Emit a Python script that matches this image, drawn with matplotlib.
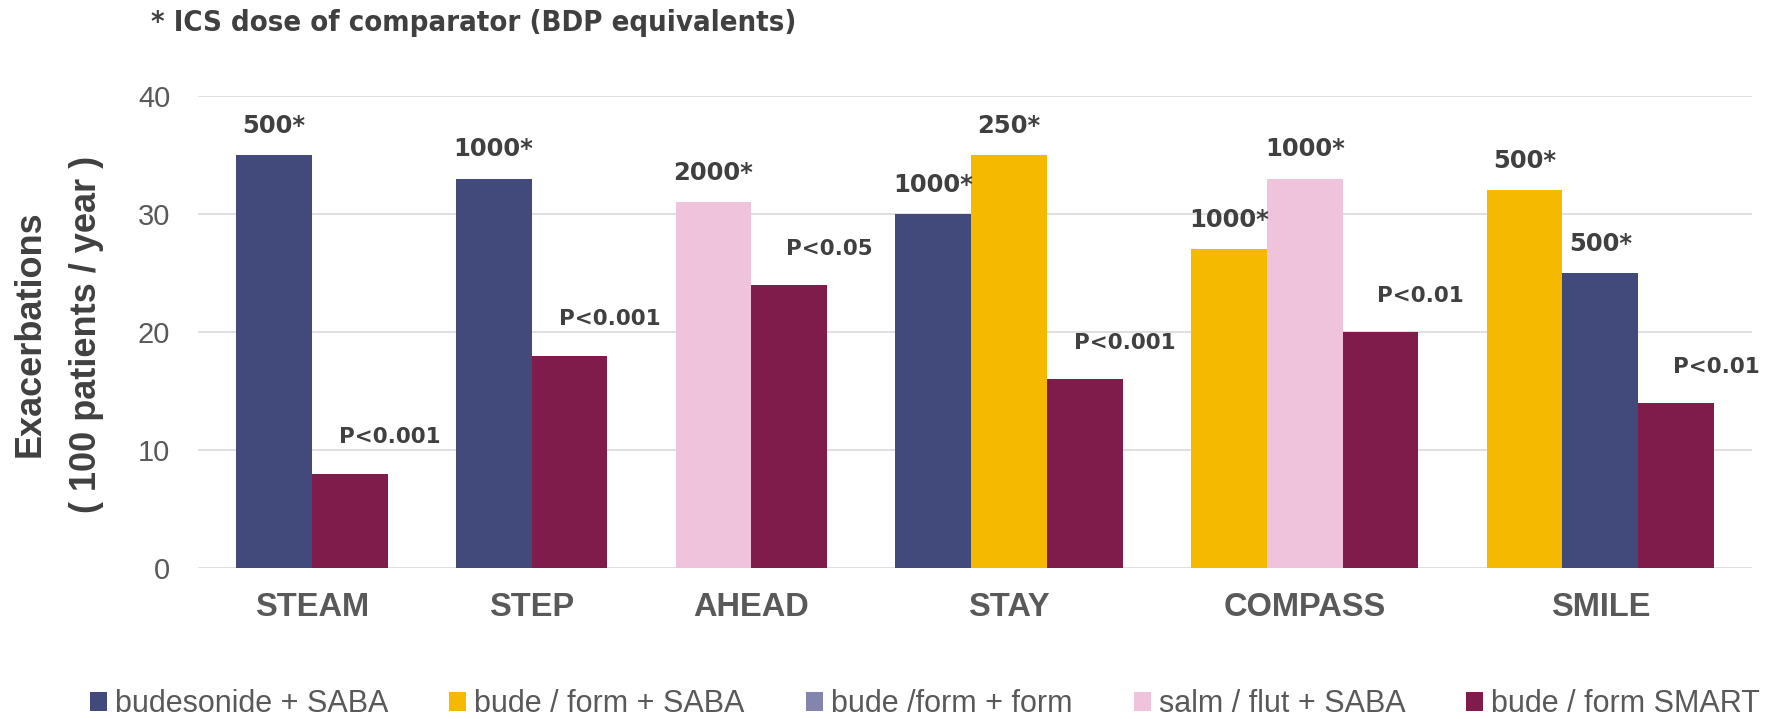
import matplotlib
matplotlib.use('Agg')
import matplotlib.pyplot as plt
from matplotlib.patches import Patch

# studies and the bars drawn in each (treatment index, value, label)
studies = ['STEAM', 'STEP', 'AHEAD', 'STAY', 'COMPASS', 'SMILE']
treatments = ['budesonide + SABA', 'bude / form + SABA', 'bude /form + form',
              'salm / flut + SABA', 'bude / form SMART']
treat_colors = ['#414A7A', '#F5BA00', '#8385AD', '#F0C3DC', '#7F1C4C']

group_treat = [[0, 4], [0, 4], [3, 4], [0, 1, 4], [1, 3, 4], [1, 0, 4]]
group_values = [[35, 8], [33, 18], [31, 24], [30, 35, 16], [27, 33, 20], [32, 25, 14]]
group_labels = [['500*', 'P<0.001'], ['1000*', 'P<0.001'], ['2000*', 'P<0.05'],
                ['1000*', '250*', 'P<0.001'], ['1000*', '1000*', 'P<0.01'],
                ['500*', '500*', 'P<0.01']]

yticks = [0, 10, 20, 30, 40]

fig = plt.figure(figsize=(17.81, 7.19), dpi=100)
ax = fig.add_axes([198/1781, 1-568/719, (1752-198)/1781, (568-96)/719])

gap = 0.9
x0 = 0.0
centers = []
for treats, vals, labs in zip(group_treat, group_values, group_labels):
    n = len(vals)
    xs = [x0 + i for i in range(n)]
    ax.bar(xs, vals, width=1.0, align='edge',
           color=[treat_colors[t] for t in treats], zorder=3)
    for x, v, lab in zip(xs, vals, labs):
        if lab.startswith('P'):
            ax.annotate(lab, (x + 0.5, v), xytext=(29, 26), textcoords='offset points',
                        ha='center', va='center', fontsize=15.5, fontweight='bold',
                        color='#404040', family='DejaVu Sans')
        else:
            ax.annotate(lab, (x + 0.5, v), xytext=(0, 21), textcoords='offset points',
                        ha='center', va='center', fontsize=17.5, fontweight='bold',
                        color='#404040', family='DejaVu Sans')
    centers.append(x0 + n / 2)
    x0 += n + gap

ax.set_xlim(-0.5, x0 - gap + 0.5)
ax.set_ylim(0, 40)
ax.set_yticks(yticks)
ax.set_yticklabels([str(t) for t in yticks], fontsize=21, color='#595959',
                   family='Liberation Sans')
ax.set_xticks(centers)
ax.set_xticklabels(studies, fontsize=23.5, fontweight='bold', color='#595959',
                   family='Liberation Sans')
ax.tick_params(axis='y', length=0, pad=20)
ax.tick_params(axis='x', length=0, pad=17)
ax.grid(axis='y', color='#D9D9D9', linewidth=1.2, zorder=0)
for s in ax.spines.values():
    s.set_visible(False)

fig.text(58/1781, 1-334/719, 'Exacerbations\n( 100 patients / year )', rotation=90,
         ha='center', va='center', fontsize=26, fontweight='bold', color='#404040',
         family='Liberation Sans', linespacing=1.8)

fig.text(151/1781, 1-23/719, '* ICS dose of comparator (BDP equivalents)',
         ha='left', va='center', fontsize=21, fontweight='bold', fontstretch='condensed',
         color='#404040', family='DejaVu Sans')

handles = [Patch(facecolor=c, edgecolor='none') for c in treat_colors]
fig.legend(handles, treatments, loc='center', bbox_to_anchor=(925/1781, 1-704/719),
           ncol=5, frameon=False, handlelength=0.56, handleheight=0.56,
           handletextpad=0.26, columnspacing=2.0,
           prop={'family': 'Liberation Sans', 'size': 22}, labelcolor='#595959')

fig.savefig('out.png', dpi=100)
